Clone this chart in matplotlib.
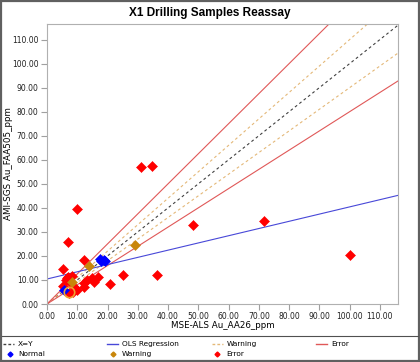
import numpy as np
from matplotlib import pyplot as plt
from matplotlib.lines import Line2D
from matplotlib.patches import Rectangle
from matplotlib.ticker import FormatStrFormatter

# samples (MSE-ALS, AMI-SGS)
normal_x = [5.5, 17.4, 18.0, 18.7, 19.1]
normal_y = [5.8, 18.6, 17.7, 18.5, 17.9]

warning_x = [8.2, 14.0, 29.1]
warning_y = [9.3, 16.0, 24.6]

error_x = [9.8, 6.8, 12.3, 5.3, 6.8, 8.3, 6.4, 7.7, 13.2, 14.8, 17.0, 15.4, 12.1, 12.3,
           20.7, 25.1, 36.5, 48.1, 31.0, 34.6, 71.8, 100.1, 5.2, 9.3, 8.7, 7.3, 9.8, 6.5]
error_y = [39.4, 25.6, 18.1, 14.5, 11.3, 11.8, 10.0, 9.3, 10.0, 10.8, 11.1, 9.0, 8.6, 7.1,
           8.4, 12.1, 12.1, 32.9, 57.2, 57.5, 34.6, 20.4, 7.4, 6.5, 5.0, 4.6, 6.0, 10.8]

selected_x = [7.3]
selected_y = [4.8]

ols_slope = 0.30
ols_intercept = 10.4
warning_factors = [1.1, 0.9]
error_factors = [1.25, 0.8]

xmax = 116.0
ymax = 116.5
ticks = np.arange(0, 111, 10)

c_xy = "#404040"
c_ols = "#4848d8"
c_warn_line = "#e4b878"
c_err_line = "#e05858"
c_normal = "#0000ff"
c_warn = "#c8860a"
c_err = "#ff0000"

fig = plt.figure(figsize=(4.2, 3.62), dpi=100)
ax = fig.add_axes([47/420, 1-304/362, 351/420, 280/362])

xs = np.array([0, xmax])
ax.plot(xs, xs, color=c_xy, lw=0.8, dashes=(2.5, 2.5))
for f in warning_factors:
    ax.plot(xs, xs*f, color=c_warn_line, lw=0.8, dashes=(2.5, 2.5))
for f in error_factors:
    ax.plot(xs, xs*f, color=c_err_line, lw=0.8)
ax.plot(xs, ols_intercept + ols_slope*xs, color=c_ols, lw=0.8)

ax.plot(error_x, error_y, "D", color=c_err, ms=4.8, mew=0.4)
ax.plot(normal_x, normal_y, "D", color=c_normal, ms=4.8, mew=0.4)
ax.plot(warning_x, warning_y, "D", color=c_warn, ms=4.8, mew=0.4)
ax.plot(selected_x, selected_y, "o", mfc="none", mec="#f0a030", ms=7.5, mew=1.2)

ax.set_xlim(0, xmax)
ax.set_ylim(0, ymax)
ax.set_xticks(ticks)
ax.set_yticks(ticks)
ax.xaxis.set_major_formatter(FormatStrFormatter("%.2f"))
ax.yaxis.set_major_formatter(FormatStrFormatter("%.2f"))
ax.tick_params(labelsize=5.5, color="#a0a0a0", length=4, width=0.8, pad=2, labelcolor="#202020")
for s in ax.spines.values():
    s.set_color("#b0b0b0")
    s.set_linewidth(0.8)

ax.set_xlabel("MSE-ALS Au_AA26_ppm", fontsize=6.3)
ax.set_ylabel("AMI-SGS Au_FAA505_ppm", fontsize=6.3)
ax.xaxis.set_label_coords(0.5, -(326-304)/280)
ax.yaxis.set_label_coords((9-47)/351, 0.5)
ax.xaxis.label.set_va("center")
ax.yaxis.label.set_va("center")
fig.text(0.5, 1-13/362, "X1 Drilling Samples Reassay", ha="center", va="center",
         fontsize=8.5, fontweight="bold", family="Liberation Sans")

# legend strip under the chart
fig.add_artist(Line2D([2/420, 418/420], [1-336/362, 1-336/362], color="#505050", lw=0.8))
row1 = 1-344/362
row2 = 1-354/362
line_items = [(3, "X=Y", c_xy, "--"), (107, "OLS Regression", c_ols, "-"),
              (212, "Warning", c_warn_line, "--"), (316, "Error", c_err_line, "-")]
for x0, label, c, ls in line_items:
    fig.add_artist(Line2D([x0/420, (x0+11)/420], [row1, row1], color=c, lw=1, ls=ls,
                          dashes=(2, 1.5) if ls == "--" else (None, None)))
    fig.text((x0+15)/420, row1, label, fontsize=5.3, va="center")
mark_items = [(10, 18, "Normal", c_normal), (113, 122, "Warning", c_warn), (217, 226, "Error", c_err)]
for xm, xt, label, c in mark_items:
    fig.add_artist(Line2D([xm/420], [row2], marker="D", color=c, ms=2.5, ls="none"))
    fig.text(xt/420, row2, label, fontsize=5.3, va="center")

fig.add_artist(Rectangle((0.002, 0.002), 0.996, 0.996, transform=fig.transFigure,
                         fill=False, edgecolor="#606060", lw=1.6))

fig.savefig("out.png", dpi=100)
